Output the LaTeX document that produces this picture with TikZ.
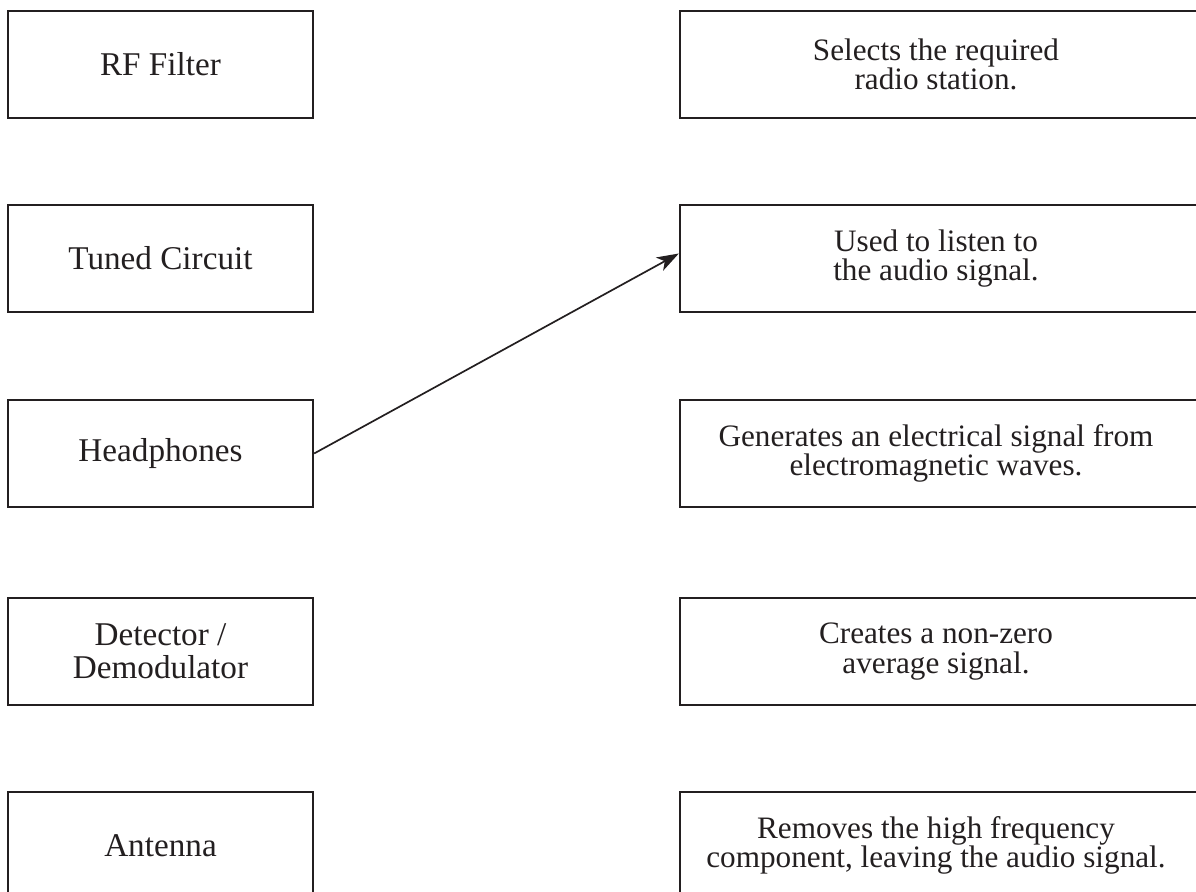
\documentclass[tikz,border=0pt]{standalone}
\usepackage{fontspec}
\setmainfont{Liberation Serif}
\usetikzlibrary{arrows.meta}
\definecolor{ink}{HTML}{231F20}
\begin{document}
\begin{tikzpicture}[x=0.5pt,y=-0.5pt,
  leftbox/.style={draw=ink, line width=1.15pt, minimum width=152.5pt, minimum height=53.5pt, inner sep=0pt, align=center, font=\fontsize{16.6pt}{16.5pt}\selectfont, text=ink},
  rightbox/.style={draw=ink, line width=1.15pt, minimum width=260pt, minimum height=53.5pt, inner sep=0pt, align=center, font=\fontsize{15.6pt}{14.6pt}\selectfont, text=ink},
  link/.style={draw=ink, line width=0.85pt, -{Stealth[length=11pt,width=7.5pt,inset=3pt]}}]
\useasboundingbox (0,0) rectangle (1196,892);
\clip (0,0) rectangle (1196,892);
\node[leftbox] (rf)  at (160.5,64.5) {RF Filter};
\node[leftbox] (tc)  at (160.5,258.5) {Tuned Circuit};
\node[leftbox] (hp)  at (160.5,453.5) {Headphones};
\node[leftbox] (det) at (160.5,651.5) {Detector /\\Demodulator};
\node[leftbox] (ant) at (160.5,845.5) {Antenna};
\node[rightbox] (r1) at (940,64.5) {\hspace*{-4pt}Selects the required\\\hspace*{-4pt}radio station.};
\node[rightbox] (r2) at (940,258.5) {\hspace*{-4pt}Used to listen to\\\hspace*{-4pt}the audio signal.};
\node[rightbox] (r3) at (940,453.5) {\hspace*{-4pt}Generates an electrical signal from\\\hspace*{-4pt}electromagnetic waves.};
\node[rightbox] (r4) at (940,651.5) {\hspace*{-4pt}Creates a non-zero\\\hspace*{-4pt}average signal.};
\node[rightbox] (r5) at (940,845.5) {\hspace*{-4pt}Removes the high frequency\\\hspace*{-4pt}component, leaving the audio signal.};
\draw[link] (hp.east) -- ([yshift=2.5pt]r2.west);
\end{tikzpicture}
\end{document}
